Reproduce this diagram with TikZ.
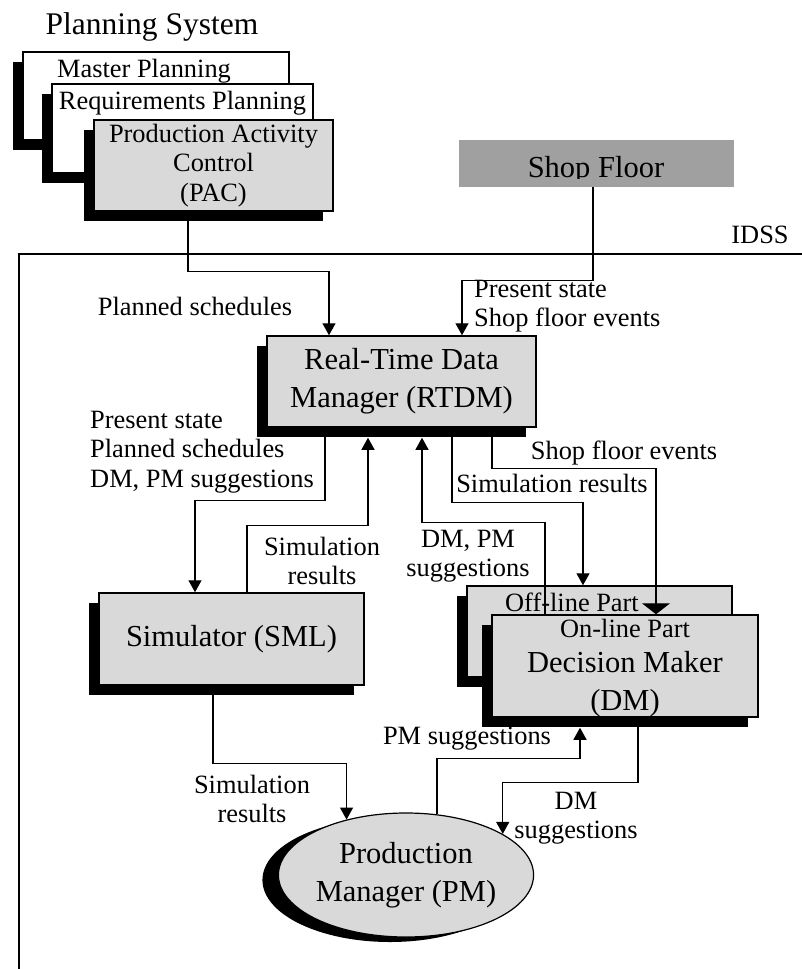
\documentclass[tikz,border=0pt]{standalone}
\usepackage{fontspec}
\setmainfont{Liberation Serif}
\usetikzlibrary{arrows.meta,shadows,shapes.geometric}
\definecolor{boxgray}{RGB}{217,217,217}
\definecolor{floorgray}{RGB}{160,160,160}
\newcommand{\lblfont}{\fontsize{26.4}{29.5}\selectfont}
\newcommand{\boxfont}{\fontsize{30.5}{38}\selectfont}

\begin{document}
\begin{tikzpicture}[x=1pt,y=-1pt,
  box/.style={draw,line width=1.5pt,fill=boxgray,inner sep=0pt,
    drop shadow={fill=black,opacity=1,shadow xshift=-10pt,shadow yshift=-10pt}},
  planbox/.style={box,fill=white},
  lbl/.style={font=\lblfont,inner sep=0pt},
  big/.style={font=\boxfont,inner sep=0pt},
  flow/.style={line width=1.3pt,-{Triangle[length=12pt,width=13pt]}},
  wideflow/.style={line width=1.3pt,-{Triangle[length=11pt,width=28pt]}}]
\useasboundingbox (0,0) rectangle (802,969);
\node[inner sep=0pt,font=\fontsize{31.5}{35}\selectfont] (plansys) at (152,27) {Planning System};
\node[planbox,minimum width=266pt,minimum height=88pt,
  label={[lbl,anchor=north,xshift=-12pt,yshift=-8pt]north:Master Planning}] (master) at (156,96) {};
\node[planbox,minimum width=261pt,minimum height=89pt,
  label={[lbl,anchor=north,yshift=-8pt]north:Requirements Planning}] (reqplan) at (182.5,128.5) {};
\node[box,minimum width=239pt,minimum height=91pt,lbl,align=center] (pac) at (213.5,165.5) {Production Activity\\Control\\(PAC)};
\node[fill=floorgray,minimum width=275pt,minimum height=47pt] (shop) at (596.5,163.5) {};
\begin{scope}
\clip (459,140) rectangle (734,178);
\node[big,anchor=base] (shoptxt) at (596,177) {Shop Floor};
\end{scope}
\draw[line width=1.5pt] (802,254) -- (19,254) -- (19,969);
\node[lbl] (idss) at (760,235) {IDSS};
\node[box,minimum width=269pt,minimum height=91pt,big,align=center] (rtdm) at (401.5,381.5) {Real-Time Data\\Manager (RTDM)};
\node[box,minimum width=265pt,minimum height=92pt,big] (sml) at (231.5,639) {Simulator (SML)};
\node[box,minimum width=265pt,minimum height=91pt] (offline) at (599.5,631.5) {};
\node[lbl] (offtxt) at (572,602) {Off-line Part};
\node[box,minimum width=266pt,minimum height=102pt] (online) at (625,666) {};
\node[lbl] (ontxt) at (625,628) {On-line Part};
\node[big,align=center] (dmtxt) at (625,684) {Decision Maker\\(DM)};
\node[ellipse,draw,line width=1.2pt,fill=boxgray,inner sep=0pt,minimum width=222pt,minimum height=124pt,
  drop shadow={fill=black,opacity=1,shadow xshift=-16pt,shadow yshift=-5pt},big,align=center] (pm) at (406,875) {Production\\Manager (PM)};
\draw[flow] ([xshift=-25.5pt]pac.south) -- ++(0,60) -| ([xshift=-72.5pt]rtdm.north);
\draw[flow] ([xshift=-3.5pt]shop.south) -- ++(0,93) -| ([xshift=60.5pt]rtdm.north);
\draw[flow] ([xshift=-76.5pt]rtdm.south) -- ++(0,73) -| ([xshift=-36.5pt]sml.north);
\draw[flow] ([xshift=15.5pt]sml.north) -- ++(0,-67) -| ([xshift=-33.5pt,yshift=-10pt]rtdm.south);
\draw[flow] ([xshift=-80pt]online.north) -- ++(0,-92) -| ([xshift=20.5pt,yshift=-10pt]rtdm.south);
\draw[flow] ([xshift=50.5pt]rtdm.south) -- ++(0,75) -| ([xshift=-16.5pt]offline.north);
\draw[wideflow] ([xshift=90.5pt]rtdm.south) -- ++(0,41) -| ([xshift=31pt]online.north);
\draw[flow] ([xshift=-18.5pt]sml.south) -- ++(0,78) -| (pm.137.6);
\draw[flow] (pm.63.3) -- ++(0,-56) -| ([xshift=-45pt,yshift=-10pt]online.south);
\draw[flow] ([xshift=13pt]online.south) -- ++(0,65) -| (pm.23.9);
\node[lbl] (lplan) at (195,306) {Planned schedules};
\node[lbl,align=left,anchor=north west] (lstate) at (474,280) {Present state\\Shop floor events};
\node[lbl,align=left,anchor=west] (lsend) at (90,452) {Present state\\Planned schedules\\DM, PM suggestions};
\node[lbl,align=center] (lsimup) at (322,561) {Simulation\\results};
\node[lbl] (lsfe) at (624,453) {Shop floor events};
\node[lbl] (lsimdm) at (552,483) {Simulation results};
\node[lbl,align=center] (lsugg) at (468,556) {DM, PM\\suggestions};
\node[lbl] (lpms) at (467,739) {PM suggestions};
\node[lbl,align=center] (ldms) at (576,818) {DM\\suggestions};
\node[lbl,align=center] (lsimpm) at (252,799) {Simulation\\results};
\end{tikzpicture}
\end{document}
